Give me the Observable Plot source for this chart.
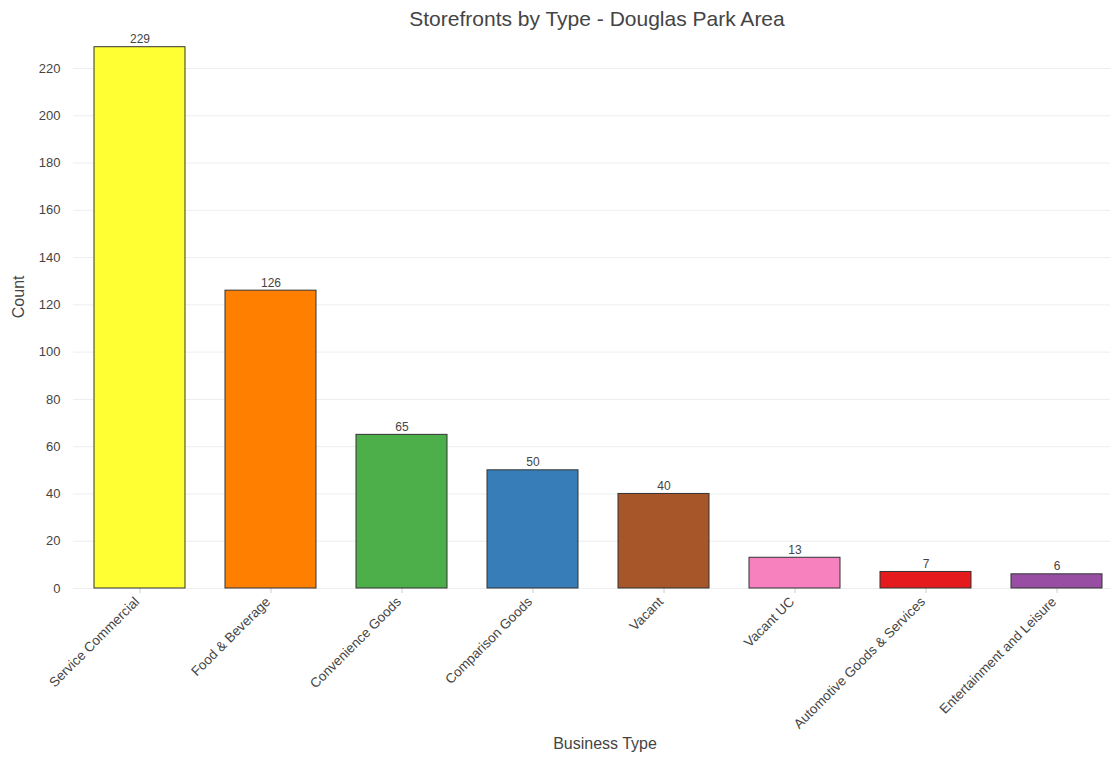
<!DOCTYPE html>
<html>
<head>
<meta charset="utf-8">
<script src="https://cdn.jsdelivr.net/npm/d3@7"></script>
<script src="https://cdn.jsdelivr.net/npm/@observablehq/plot@0.6"></script>
<style>
  html, body { margin: 0; padding: 0; background: #fff; }
  #wrap { position: relative; width: 1110px; height: 759px; overflow: hidden; }
  #title {
    position: absolute; top: 7px; left: 0; width: 1194px; text-align: center;
    font: 21px "Liberation Sans", Arial, sans-serif; color: #444;
  }
  #chart { position: absolute; top: 0; left: 0; }
</style>
</head>
<body>
<div id="wrap">
  <div id="chart"></div>
  <div id="title">Storefronts by Type - Douglas Park Area</div>
</div>
<script>
// Storefront counts per business type
const categories = [
  "Service Commercial", "Food & Beverage", "Convenience Goods", "Comparison Goods",
  "Vacant", "Vacant UC", "Automotive Goods & Services", "Entertainment and Leisure"
];
const counts = [229, 126, 65, 50, 40, 13, 7, 6];
const colors = ["#ffff33", "#ff7f00", "#4daf4a", "#377eb8", "#a65628", "#f781bf", "#e41a1c", "#984ea3"];
const yTicks = [0, 20, 40, 60, 80, 100, 120, 140, 160, 180, 200, 220];

const rows = categories.map((c, i) => ({type: c, count: counts[i], color: colors[i]}));

const font = "'Liberation Sans', Arial, sans-serif";

const chart = Plot.plot({
  width: 1110,
  height: 759,
  marginLeft: 73,
  marginRight: 0,
  marginTop: 20.7,
  marginBottom: 171,
  style: {fontFamily: font, fontSize: "12px", color: "#444", background: "transparent"},
  x: {domain: categories, range: [73, 1123], paddingInner: 0.305, paddingOuter: 0.1525},
  y: {domain: [0, 240]},
  marks: [
    Plot.gridY(yTicks, {stroke: "#eee", strokeOpacity: 1, strokeWidth: 1}),
    Plot.ruleY([0], {stroke: "#d4d4d4", strokeWidth: 2, x1: 73, x2: 1123}),
    Plot.axisY(yTicks, {tickSize: 0, tickPadding: 13, label: null, fill: "#444", fontSize: 13}),
    Plot.axisX({tickSize: 5, tickFormat: () => "", label: null, stroke: "#ccc", tickPadding: 0}),
    Plot.barY(rows, {x: "type", y: "count", fill: "color", stroke: "#333", strokeWidth: 1}),
    Plot.text(rows, {x: "type", y: "count", text: d => String(d.count), dy: -8, fill: "#444", fontSize: 12}),
    Plot.text(rows, {x: "type", y: 0, text: "type", rotate: -45, textAnchor: "end", dx: -3, dy: 11, fill: "#444", fontSize: 13.5}),
    Plot.text(["Count"], {frameAnchor: "top-left", dx: -61, dy: 297, rotate: -90, fill: "#444", fontSize: 16}),
    Plot.text(["Business Type"], {frameAnchor: "bottom", dx: 13, dy: 160, fill: "#444", fontSize: 16})
  ]
});
document.getElementById("chart").appendChild(chart);
</script>
</body>
</html>
